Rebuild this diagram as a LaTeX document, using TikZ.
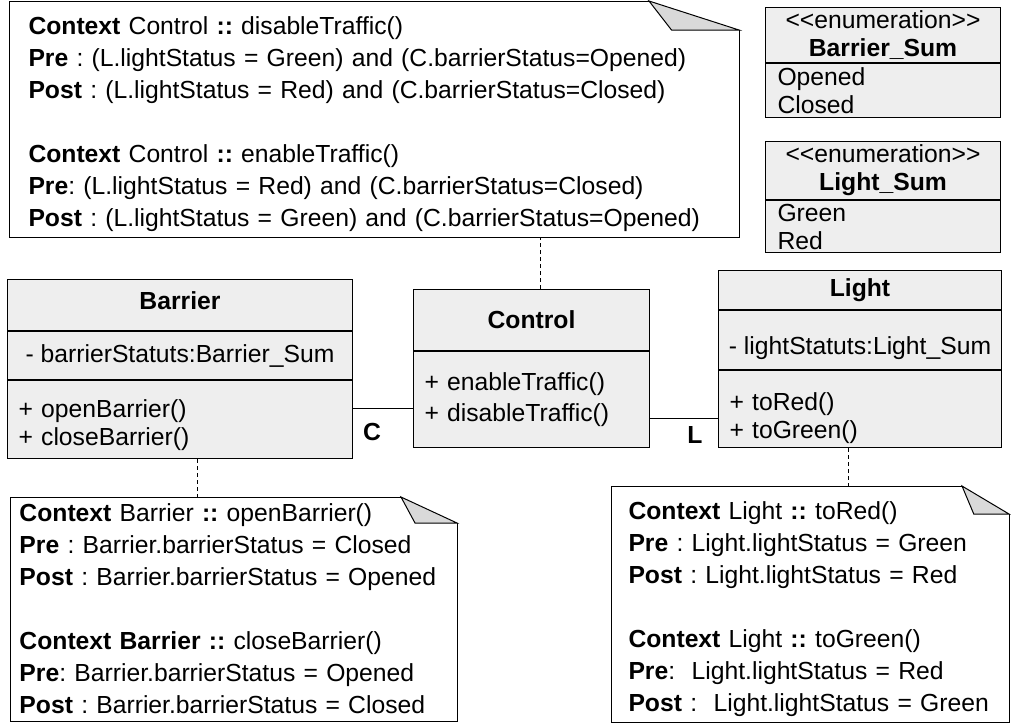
\documentclass[tikz,border=0pt]{standalone}
\usepackage{fontspec}
\setmainfont{Liberation Sans}
\usetikzlibrary{positioning,calc}

\definecolor{classgray}{RGB}{238,238,238}
\definecolor{foldgray}{RGB}{217,217,217}
\newcommand{\notefont}{\fontsize{24.7}{32}\selectfont\frenchspacing}
\newcommand{\classfont}{\fontsize{24.7}{28}\selectfont\frenchspacing}
\newcommand{\topgap}[1]{\rule{0pt}{#1}}
\newcommand{\stereo}{<\kern0pt<enumeration>\kern0pt>}
% outline of a note with a dog-ear: node name, width of the ear, depth of the ear
\newcommand{\noteframe}[3]{
\filldraw[fill=foldgray] ($(#1.north east)+(-#2,0)$) -- ($(#1.north east)+(-0.75*#2,#3)$) -- ($(#1.north east)+(0,#3)$) -- cycle;
\draw ($(#1.north east)+(-#2,0)$) -- (#1.north west) -- (#1.south west) -- (#1.south east) -- ($(#1.north east)+(0,#3)$);
}

\tikzset{
  part/.style={draw, fill=classgray, inner sep=0pt, font=\classfont, anchor=north west},
  ops/.style={part, align=left, inner xsep=11pt},
  note/.style={inner ysep=0pt, align=left, font=\notefont, anchor=north west},
  dep/.style={dash pattern=on 4pt off 3pt},
  role/.style={font=\classfont\bfseries, inner sep=0pt}
}

\begin{document}
\begin{tikzpicture}[x=1pt, y=-1pt, line width=1pt]
\useasboundingbox (0,0) rectangle (1014,724);

% notes
\node[note, minimum width=729, minimum height=235, text width=691, inner xsep=19pt] (ctrlnote) at (9,1)
{\topgap{28pt}\textbf{Context} Control \textbf{::} disableTraffic()\\
\textbf{Pre} : (L.lightStatus = Green) and (C.barrierStatus=Opened)\\
\textbf{Post} : (L.lightStatus = Red) and (C.barrierStatus=Closed)\\[32pt]
\textbf{Context} Control \textbf{::} enableTraffic()\\
\textbf{Pre}: (L.lightStatus = Red) and (C.barrierStatus=Closed)\\
\textbf{Post} : (L.lightStatus = Green) and (C.barrierStatus=Opened)};
\noteframe{ctrlnote}{90}{29}

\node[note, minimum width=446, minimum height=223, text width=428, inner xsep=9pt] (barriernote) at (10,497)
{\textbf{Context} Barrier \textbf{::} openBarrier()\\
\textbf{Pre} : Barrier.barrierStatus = Closed\\
\textbf{Post} : Barrier.barrierStatus = Opened\\[32pt]
\textbf{Context Barrier ::} closeBarrier()\\
\textbf{Pre}: Barrier.barrierStatus = Opened\\
\textbf{Post} : Barrier.barrierStatus = Closed};
\noteframe{barriernote}{56}{26}

\node[note, minimum width=397, minimum height=235, text width=363, inner xsep=17pt] (lightnote) at (611,486)
{\topgap{29pt}\textbf{Context} Light \textbf{::} toRed()\\
\textbf{Pre} : Light.lightStatus = Green\\
\textbf{Post} : Light.lightStatus = Red\\[32pt]
\textbf{Context} Light \textbf{::} toGreen()\\
\mbox{\textbf{Pre}:~ Light.lightStatus = Red}\\
\mbox{\textbf{Post} :~ Light.lightStatus = Green}};
\noteframe{lightnote}{47}{28}

% enumerations
\node[part, minimum width=235, minimum height=55, align=center] (barriersum) at (765,7)
{\stereo\\ \textbf{Barrier\_Sum}};
\node[ops, minimum width=235, minimum height=54, text width=211, below=0pt of barriersum] (barriersumvals)
{Opened\\ Closed};
\node[part, minimum width=235, minimum height=58, align=center] (lightsum) at (765,141)
{\stereo\\ \textbf{Light\_Sum}};
\node[ops, minimum width=235, minimum height=52, text width=211, below=0pt of lightsum] (lightsumvals)
{Green\\ Red};

% classes
\node[part, minimum width=345, minimum height=51, text depth=8pt] (barrier) at (7,279) {\textbf{Barrier}};
\node[part, minimum width=345, minimum height=48, below=0pt of barrier] (barrierattr) {- barrierStatuts:Barrier\_Sum};
\node[ops, minimum width=345, minimum height=78, text width=323, below=0pt of barrierattr] (barrierops)
{\topgap{30pt}+ openBarrier()\\ + closeBarrier()};

\node[part, minimum width=236, minimum height=61] (control) at (413,289) {\textbf{Control}};
\node[ops, minimum width=236, minimum height=96, text width=214, below=0pt of control] (controlops)
{+ enableTraffic()\\[3pt] + disableTraffic()};

\node[part, minimum width=283, minimum height=39] (light) at (718,270) {\textbf{Light}};
\node[part, minimum width=283, minimum height=59, text height=34pt, below=0pt of light] (lightattr) {- lightStatuts:Light\_Sum};
\node[ops, minimum width=283, minimum height=77, text width=261, below=0pt of lightattr] (lightops)
{\topgap{36pt}+ toRed()\\ + toGreen()};

% associations
\draw ([yshift=11pt]barrierops.east) coordinate (cend) -- (cend -| controlops.west);
\node[role] (crole) at (372,432) {C};
\draw ([yshift=-19pt]controlops.east) coordinate (lend) -- (lend -| lightops.west);
\node[role] (lrole) at (695,435) {L};

% note links
\draw[dep] ([xshift=9pt]control.north) -- ([xshift=9pt]control.north |- ctrlnote.south);
\draw[dep] ([xshift=17pt]barrierops.south) -- ([xshift=17pt]barrierops.south |- barriernote.north);
\draw[dep] ([xshift=-12pt]lightops.south) -- ([xshift=-12pt]lightops.south |- lightnote.north);
\end{tikzpicture}
\end{document}
